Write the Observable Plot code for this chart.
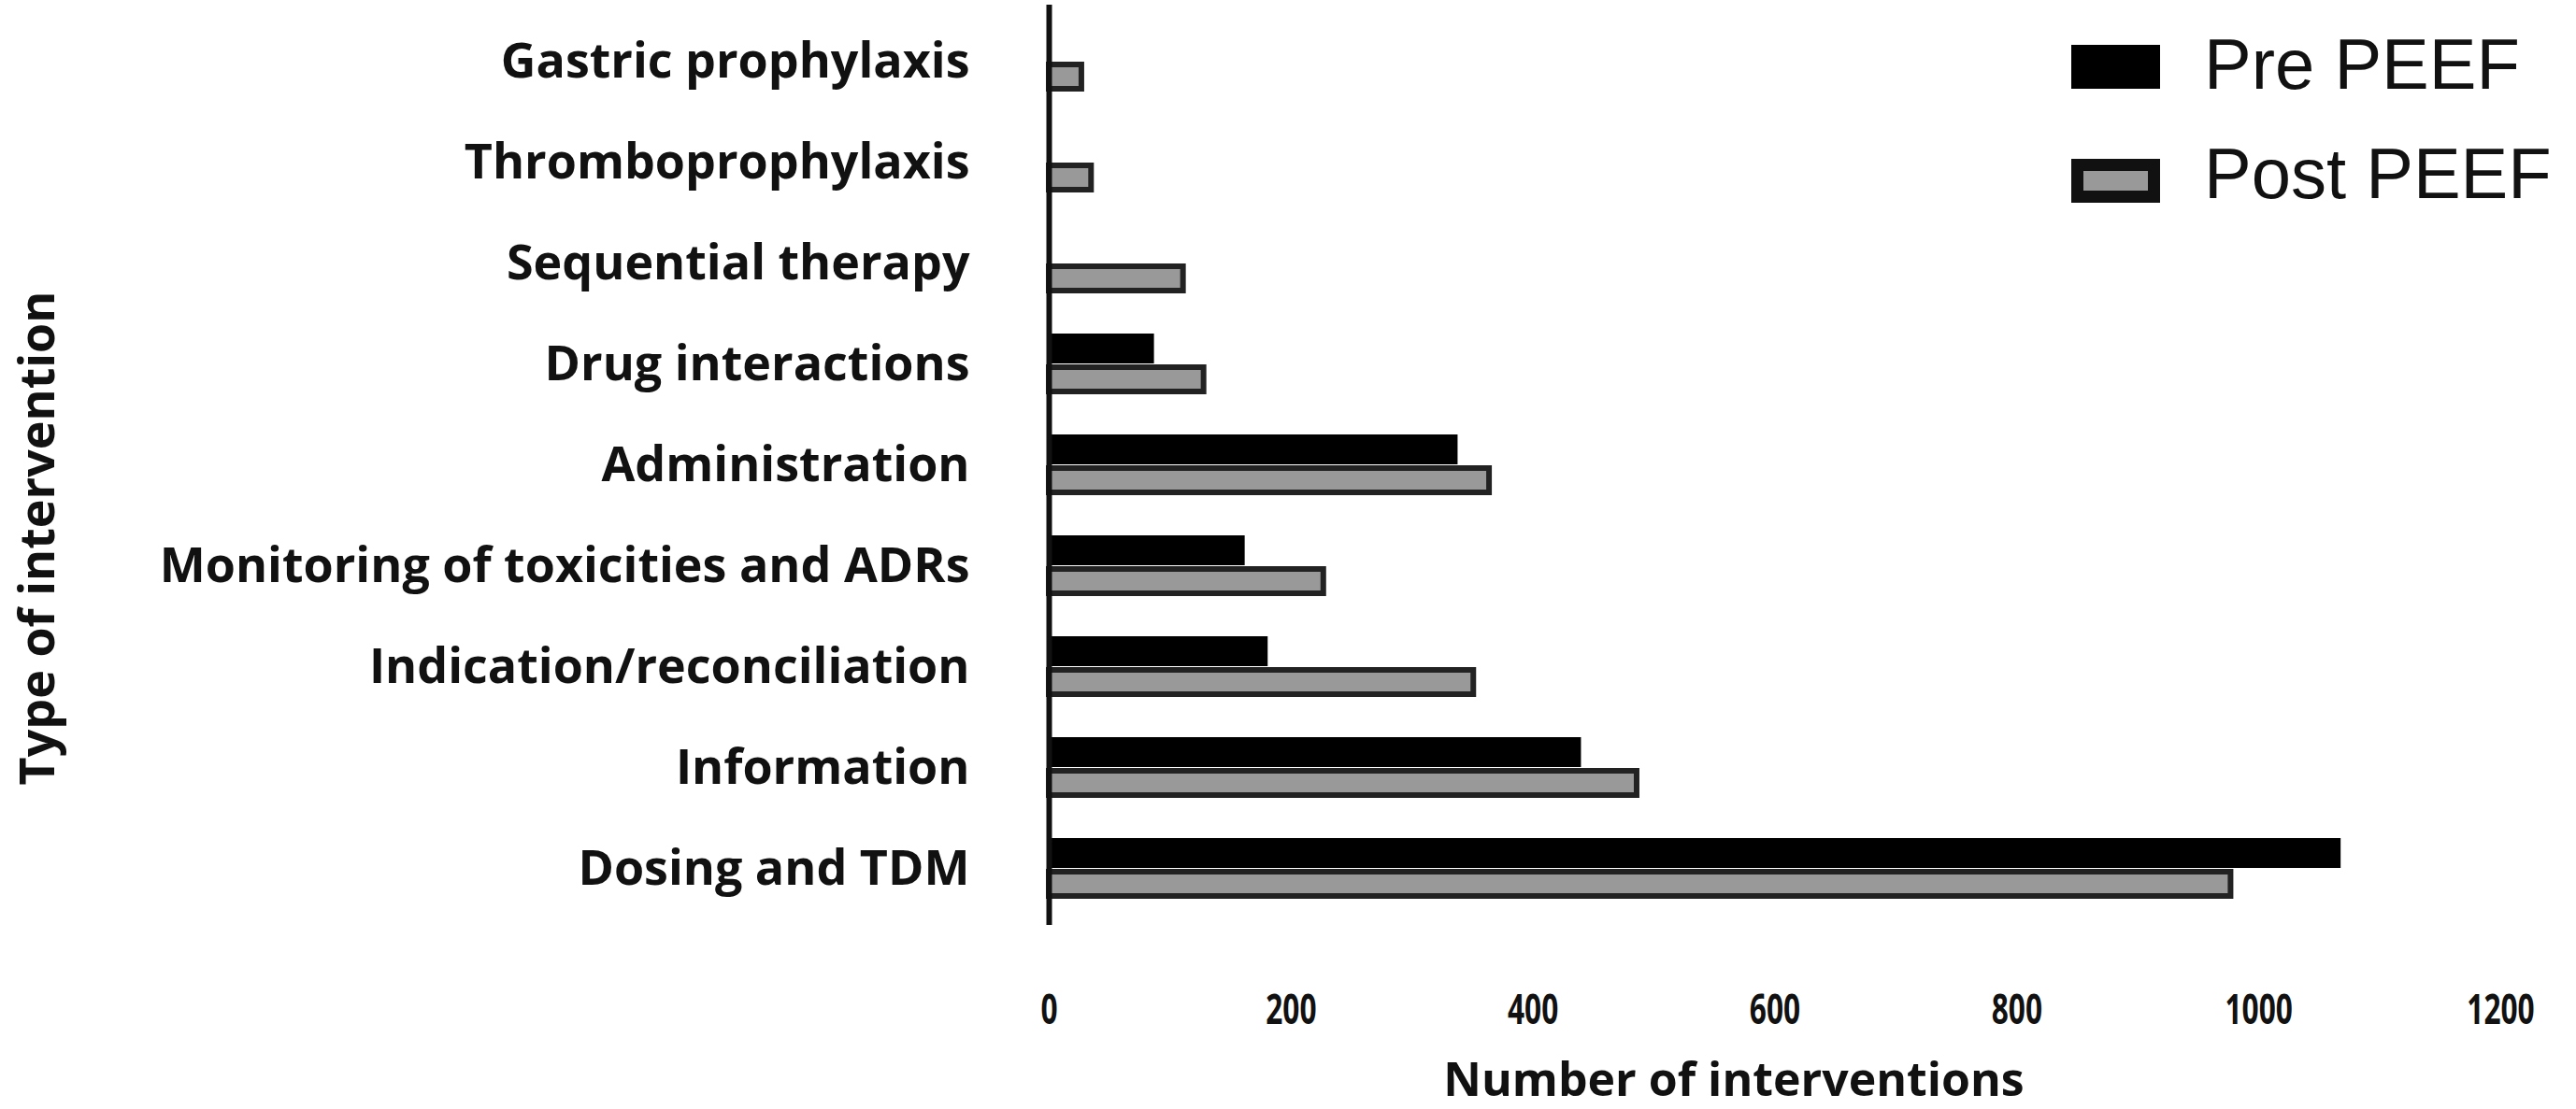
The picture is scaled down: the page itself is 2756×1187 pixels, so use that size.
<!DOCTYPE html>
<html><head><meta charset="utf-8">
<script src="https://cdn.jsdelivr.net/npm/d3@7"></script>
<script src="https://cdn.jsdelivr.net/npm/@observablehq/plot@0.6"></script>
<style>
body{margin:0;background:#fff;}
#wrap{position:relative;width:2756px;height:1187px;overflow:hidden;background:#fff;}
.leg{position:absolute;font-family:"Liberation Sans",Arial,sans-serif;font-weight:400;color:#111;white-space:nowrap;font-size:76px;line-height:76px;}
.sw{position:absolute;box-sizing:border-box;}
</style></head><body><div id="wrap"></div>
<script>
const categories = ["Gastric prophylaxis","Thromboprophylaxis","Sequential therapy","Drug interactions","Administration","Monitoring of toxicities and ADRs","Indication/reconciliation","Information","Dosing and TDM"];
const preValues = [0,0,0,87,338,162,181,440,1068];
const postValues = [27,35,111,128,364,227,351,486,977];
const xTicks = [0,200,400,600,800,1000,1200];
const seriesNames = ["Pre PEEF","Post PEEF"];
const xTitle = "Number of interventions";
const yTitle = "Type of intervention";

const pre = categories.map((c,i)=>({category:c, value:preValues[i]})).filter(d=>d.value>0);
const post = categories.map((c,i)=>({category:c, value:postValues[i]}));

const chart = Plot.plot({
  width:2756, height:1187,
  marginLeft:1122, marginRight:81, marginTop:5, marginBottom:197,
  style:{fontFamily:"'Open Sans',sans-serif", fontWeight:700, fontSize:"52px", color:"#111", background:"#fff"},
  x:{domain:[0,1200], label:null},
  y:{domain:categories, paddingInner:0.394, paddingOuter:0.22, label:null},
  marks:[
    Plot.barX(pre,{x:"value", y:"category", fill:"#000", insetBottom:33}),
    Plot.barX(post,{x:"value", y:"category", fill:"#999", stroke:"#222", strokeWidth:6, insetTop:36, insetBottom:3}),
    Plot.axisY({tickSize:0, tickPadding:85, fontSize:52, fontWeight:700, label:null}),
    Plot.axisX({ticks:xTicks, tickFormat:d=>String(d), tickSize:0, tickPadding:74, fontSize:44, fontWeight:700, label:null}),
    Plot.ruleX([0],{stroke:"#111", strokeWidth:6})
  ]
});
const wrap = document.getElementById("wrap");
wrap.appendChild(chart);
const svg = d3.select(chart);
// condense the x tick labels horizontally, as in the reference
svg.selectAll('g[aria-label="x-axis tick label"] text').each(function(){
  const t = this.getAttribute("transform") || "";
  this.setAttribute("transform", t + " scale(0.72,1)");
});
// axis titles
svg.append("text").text(yTitle)
  .attr("transform","translate(37,576) rotate(-90)")
  .attr("text-anchor","middle").attr("dominant-baseline","central")
  .attr("font-size",52).attr("font-weight",700).attr("fill","#111");
svg.append("text").text(xTitle)
  .attr("x",1855).attr("y",1173)
  .attr("text-anchor","middle")
  .attr("font-size",50).attr("font-weight",700).attr("fill","#111");

function add(cls, text, css){const d=document.createElement("div");d.className=cls;if(text)d.textContent=text;Object.assign(d.style,css);wrap.appendChild(d);return d;}
add("sw", "", {left:"2216px", top:"48px", width:"95px", height:"47px", background:"#000"});
add("sw", "", {left:"2216px", top:"170px", width:"95px", height:"47px", background:"#999", border:"13px solid #111"});
add("leg", seriesNames[0], {left:"2358px", top:"31px"});
add("leg", seriesNames[1], {left:"2358px", top:"148px"});
</script></body></html>
